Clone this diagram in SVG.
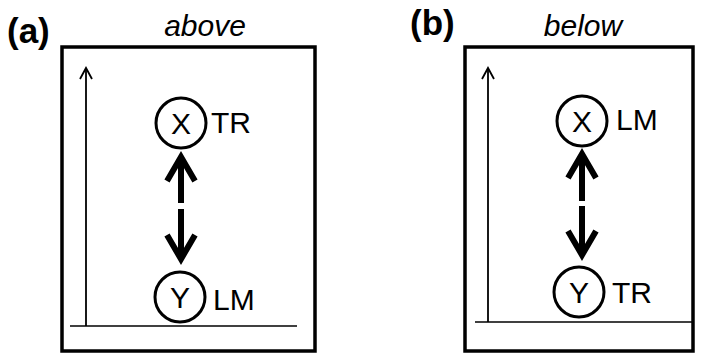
<svg xmlns="http://www.w3.org/2000/svg" width="713" height="353" viewBox="0 0 713 353">
<style>
.box{fill:none;stroke:#000;stroke-width:3.5}
.base{stroke:#000;stroke-width:1.5}
.axis{stroke:#000;stroke-width:1.8;fill:none}
.node{fill:#fff;stroke:#000;stroke-width:3}
.lbl{font-family:"Liberation Sans",Arial,sans-serif;font-size:30px;fill:#000}
.ttl{font-family:"Liberation Sans",Arial,sans-serif;font-size:30px;font-style:italic;fill:#000}
.pan{font-family:"Liberation Sans",Arial,sans-serif;font-size:35px;font-weight:bold;fill:#000}
.dbl{stroke:#000;stroke-width:6;fill:none}
</style>
<rect fill="#fff" width="713" height="353"/>
<text class="pan" x="7" y="43">(a)</text>
<text class="ttl" x="205" y="36" text-anchor="middle">above</text>
<text class="pan" x="410" y="35">(b)</text>
<text class="ttl" x="583" y="36" text-anchor="middle">below</text>
<g id="frame-a">
<rect class="box" x="62" y="47" width="253" height="304"/>
<line class="base" x1="70" y1="326" x2="297" y2="326"/>
<line class="axis" x1="86" y1="326" x2="86" y2="68"/>
<polyline class="axis" points="80,79 86,68 92,79"/>
</g>
<g id="frame-b">
<rect class="box" x="465" y="47" width="228" height="304"/>
<line class="base" x1="475" y1="322" x2="692" y2="322"/>
<line class="axis" x1="488" y1="322" x2="488" y2="68"/>
<polyline class="axis" points="482,79 488,68 494,79"/>
</g>
<g id="connectors">
<line class="dbl" x1="181" y1="157" x2="181" y2="203"/>
<polyline class="dbl" points="167,181 181,157 195,181"/>
<line class="dbl" x1="181" y1="209" x2="181" y2="259"/>
<polyline class="dbl" points="167,235 181,259 195,235"/>
<line class="dbl" x1="582" y1="154" x2="582" y2="201"/>
<polyline class="dbl" points="568,178 582,154 596,178"/>
<line class="dbl" x1="582" y1="206" x2="582" y2="255"/>
<polyline class="dbl" points="568,231 582,255 596,231"/>
</g>
<g id="a-X">
<circle class="node" cx="181" cy="123" r="25"/>
<text class="lbl" x="181" y="134" text-anchor="middle">X</text>
<text class="lbl" x="211" y="133">TR</text>
</g>
<g id="a-Y">
<circle class="node" cx="180" cy="297" r="25"/>
<text class="lbl" x="180" y="308" text-anchor="middle">Y</text>
<text class="lbl" x="213" y="310">LM</text>
</g>
<g id="b-X">
<circle class="node" cx="582" cy="121" r="25"/>
<text class="lbl" x="582" y="132" text-anchor="middle">X</text>
<text class="lbl" x="616" y="130">LM</text>
</g>
<g id="b-Y">
<circle class="node" cx="579" cy="292" r="25"/>
<text class="lbl" x="579" y="303" text-anchor="middle">Y</text>
<text class="lbl" x="612" y="303">TR</text>
</g>
</svg>
